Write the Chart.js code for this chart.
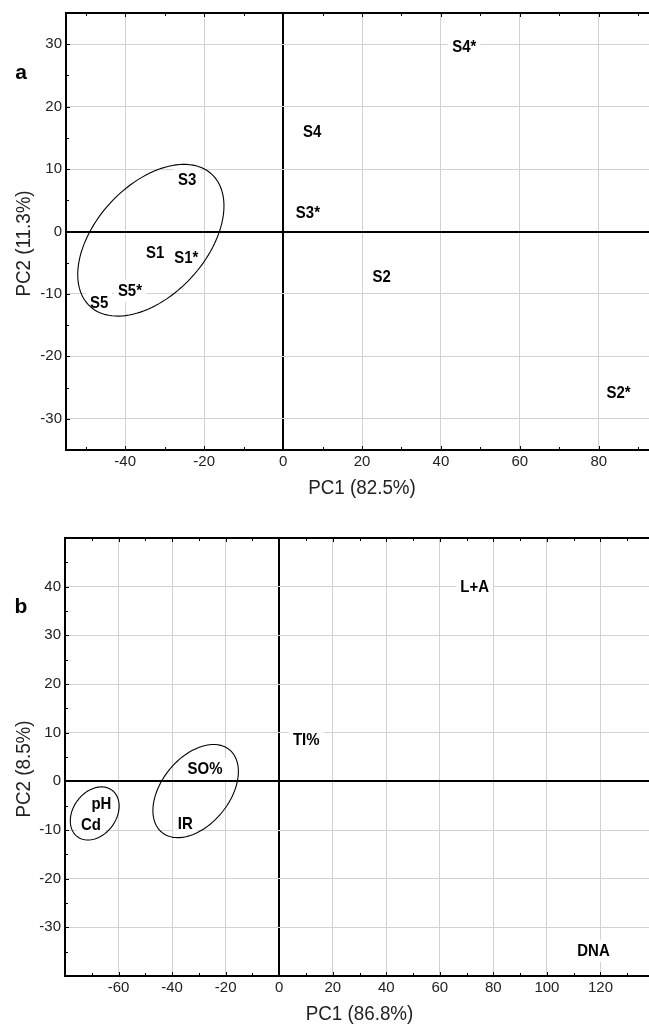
<!DOCTYPE html>
<html>
<head>
<meta charset="utf-8">
<script src="https://cdn.jsdelivr.net/npm/chart.js@4.4.1/dist/chart.umd.min.js"></script>
<style>
  html, body { margin: 0; padding: 0; overflow: hidden; background: #fff; }
  #wrap { width: 660px; }
  canvas { display: block; }
</style>
</head>
<body>
<div id="wrap">
  <canvas id="chartA" width="660" height="513"></canvas>
  <canvas id="chartB" width="660" height="513"></canvas>
</div>
<script>
// panel a: samples
const labelsA = ["S1", "S1*", "S2", "S2*", "S3", "S3*", "S4", "S4*", "S5", "S5*"];
const pc1A = [-32.4, -24.5, 25.0, 85.0, -24.3, 6.3, 7.4, 45.9, -46.6, -38.8];
const pc2A = [-3.4, -4.2, -7.1, -25.7, 8.4, 3.0, 16.1, 29.7, -11.4, -9.5];
const xTicksA = [-40, -20, 0, 20, 40, 60, 80];
const yTicksA = [-30, -20, -10, 0, 10, 20, 30];
// ellipse: centre + two conjugate half-axes, in data units
const ellipsesA = [
  { cx: -33.5, cy: -1.4, ux: 15.4, uy: 10.6, vx: -10.3, vy: 5.95 }
];

// panel b: variables
const labelsB = ["pH", "Cd", "IR", "SO%", "TI%", "L+A", "DNA"];
const pc1B = [-66.4, -70.3, -35.1, -27.7, 10.1, 73.0, 117.4];
const pc2B = [-4.5, -8.9, -8.7, 2.6, 8.6, 40.1, -34.8];
const xTicksB = [-60, -40, -20, 0, 20, 40, 60, 80, 100, 120];
const yTicksB = [-30, -20, -10, 0, 10, 20, 30, 40];
const ellipsesB = [
  { cx: -31.2, cy: -2.0, ux: 12.6, uy: 8.5, vx: -9.8, vy: 4.4 },
  { cx: -68.9, cy: -6.6, ux: 6.4, uy: 4.8, vx: -6.5, vy: 2.6 }
];

const FONT = '"Liberation Sans", Arial, sans-serif';
Chart.defaults.font.family = FONT;

// text squeezed a little horizontally, like the original figure
function narrowText(ctx, txt, x, y, sx) {
  ctx.save();
  ctx.translate(x, y);
  ctx.scale(sx, 1);
  ctx.fillText(txt, 0, 0);
  ctx.restore();
}

// draws frame top, minor ticks, ellipses, point labels, titles
const pcaPlugin = {
  id: "pca",
  afterDatasetsDraw(chart, args, o) {
    const ctx = chart.ctx;
    const a = chart.chartArea;
    const xs = chart.scales.x, ys = chart.scales.y;
    const sx = 0.88;
    ctx.save();

    // top frame line
    ctx.strokeStyle = "#000";
    ctx.lineWidth = 2;
    ctx.beginPath();
    ctx.moveTo(a.left - 1, a.top);
    ctx.lineTo(a.right, a.top);
    ctx.stroke();

    // inward tick marks
    ctx.lineWidth = 1;
    ctx.beginPath();
    for (let v = Math.ceil(xs.min / 10) * 10; v <= xs.max; v += 10) {
      const px = Math.round(xs.getPixelForValue(v)) + 0.5;
      const len = v % 20 === 0 ? 4 : 3;
      ctx.moveTo(px, a.bottom); ctx.lineTo(px, a.bottom - len);
      ctx.moveTo(px, a.top); ctx.lineTo(px, a.top + len);
    }
    for (let v = Math.ceil(ys.min / 5) * 5; v <= ys.max; v += 5) {
      const py = Math.round(ys.getPixelForValue(v)) + 0.5;
      const len = v % 10 === 0 ? 4 : 3;
      ctx.moveTo(a.left, py); ctx.lineTo(a.left + len, py);
    }
    ctx.stroke();

    const ds = chart.data.datasets[0];
    ctx.font = "bold 17px " + FONT;
    ctx.textAlign = "center";
    ctx.textBaseline = "middle";

    // white boxes behind labels
    ctx.fillStyle = "#fff";
    ds.data.forEach((p) => {
      const w = ctx.measureText(p.label).width * sx;
      const px = xs.getPixelForValue(p.x), py = ys.getPixelForValue(p.y);
      ctx.fillRect(px - w / 2 - 4, py - 11, w + 8, 22);
    });

    // ellipses
    ctx.strokeStyle = "#000";
    ctx.lineWidth = 1.1;
    o.ellipses.forEach((e) => {
      ctx.beginPath();
      for (let i = 0; i <= 120; i++) {
        const t = (i / 120) * Math.PI * 2;
        const vx = e.cx + e.ux * Math.cos(t) + e.vx * Math.sin(t);
        const vy = e.cy + e.uy * Math.cos(t) + e.vy * Math.sin(t);
        const px = xs.getPixelForValue(vx), py = ys.getPixelForValue(vy);
        if (i === 0) ctx.moveTo(px, py); else ctx.lineTo(px, py);
      }
      ctx.closePath();
      ctx.stroke();
    });

    // labels
    ctx.fillStyle = "#000";
    ds.data.forEach((p) => {
      narrowText(ctx, p.label, xs.getPixelForValue(p.x), ys.getPixelForValue(p.y) + 1, sx);
    });

    // panel letter
    ctx.font = "bold 21px " + FONT;
    ctx.fillText(o.letter, 21, o.letterY);

    // axis titles
    ctx.fillStyle = "#222";
    ctx.font = "20px " + FONT;
    narrowText(ctx, o.xTitle, (a.left + a.right) / 2, a.bottom + 38, 0.94);
    ctx.translate(24, (a.top + a.bottom) / 2 + 12);
    ctx.rotate(-Math.PI / 2);
    narrowText(ctx, o.yTitle, 0, 0, 0.94);
    ctx.restore();
  }
};

function pcaChart(id, cfg) {
  const grid = {
    drawTicks: false,
    color: (c) => (c.tick && c.tick.value === 0 ? "#000" : "#d2d2d2"),
    lineWidth: (c) => (c.tick && c.tick.value === 0 ? 2 : 1)
  };
  return new Chart(document.getElementById(id), {
    type: "scatter",
    data: {
      datasets: [{
        data: cfg.labels.map((l, i) => ({ x: cfg.pc1[i], y: cfg.pc2[i], label: l })),
        pointRadius: 0,
        pointHoverRadius: 0
      }]
    },
    options: {
      responsive: false,
      animation: false,
      devicePixelRatio: 1,
      layout: { padding: { top: cfg.top, right: cfg.right, left: 0, bottom: 0 } },
      plugins: {
        legend: { display: false },
        tooltip: { enabled: false },
        pca: {
          ellipses: cfg.ellipses,
          letter: cfg.letter,
          letterY: cfg.letterY,
          xTitle: cfg.xTitle,
          yTitle: cfg.yTitle
        }
      },
      scales: {
        x: {
          type: "linear",
          min: cfg.xMin, max: cfg.xMax,
          afterBuildTicks: (s) => { s.ticks = cfg.xTicks.map((v) => ({ value: v })); },
          afterFit: (s) => { s.height = cfg.xAxisH; },
          grid: grid,
          border: { display: true, color: "#000", width: 2 },
          ticks: { color: "#222", font: { size: 15 }, padding: 3, maxRotation: 0 }
        },
        y: {
          type: "linear",
          min: cfg.yMin, max: cfg.yMax,
          afterBuildTicks: (s) => { s.ticks = cfg.yTicks.map((v) => ({ value: v })); },
          afterFit: (s) => { s.width = cfg.yAxisW; },
          grid: grid,
          border: { display: true, color: "#000", width: 2 },
          ticks: { color: "#222", font: { size: 15 }, padding: 4 }
        }
      }
    },
    plugins: [pcaPlugin]
  });
}

pcaChart("chartA", {
  labels: labelsA, pc1: pc1A, pc2: pc2A, ellipses: ellipsesA,
  xTicks: xTicksA, yTicks: yTicksA,
  xMin: -55, xMax: 95, yMin: -35, yMax: 35,
  top: 12, right: 2, xAxisH: 63, yAxisW: 66,
  letter: "a", letterY: 73,
  xTitle: "PC1 (82.5%)", yTitle: "PC2 (11.3%)"
});

pcaChart("chartB", {
  labels: labelsB, pc1: pc1B, pc2: pc2B, ellipses: ellipsesB,
  xTicks: xTicksB, yTicks: yTicksB,
  xMin: -80, xMax: 140, yMin: -40, yMax: 50,
  top: 25, right: 6, xAxisH: 50, yAxisW: 65,
  letter: "b", letterY: 94,
  xTitle: "PC1 (86.8%)", yTitle: "PC2 (8.5%)"
});
</script>
</body>
</html>
